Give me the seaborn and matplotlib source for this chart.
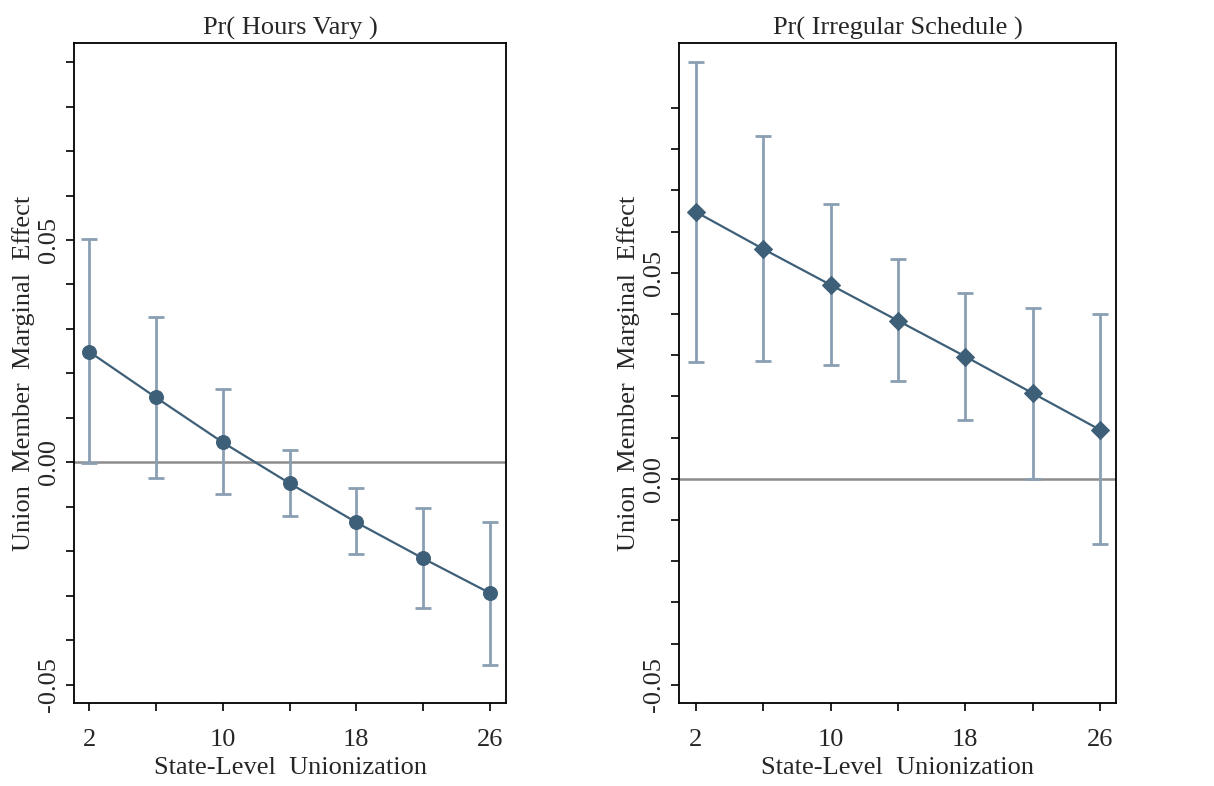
import numpy as np
import pandas as pd
import matplotlib
matplotlib.use('Agg')
import matplotlib.pyplot as plt
import seaborn as sns

# Datos
union_estatal = [2, 6, 10, 14, 18, 22, 26]

horas_efecto = [0.0249, 0.0146, 0.0045, -0.0047, -0.0135, -0.0216, -0.0294]
horas_sup = [0.0503, 0.0326, 0.0164, 0.0027, -0.0058, -0.0103, -0.0133]
horas_inf = [-0.0002, -0.0034, -0.0070, -0.0121, -0.0207, -0.0328, -0.0456]

irreg_efecto = [0.0648, 0.0558, 0.0471, 0.0384, 0.0297, 0.0208, 0.0119]
irreg_sup = [0.1012, 0.0833, 0.0667, 0.0533, 0.0450, 0.0414, 0.0399]
irreg_inf = [0.0284, 0.0287, 0.0277, 0.0238, 0.0143, 0.0000, -0.0158]

titulos = ['Pr( Hours Vary )', 'Pr( Irregular Schedule )']
ytick_vals = [-0.05, -0.04, -0.03, -0.02, -0.01, 0.0, 0.01, 0.02, 0.03, 0.04, 0.05, 0.06, 0.07, 0.08, 0.09]
ytick_labels = ['-0.05', '', '', '', '', '0.00', '', '', '', '', '0.05', '', '', '', '']
xtick_labels = ['2', '', '10', '', '18', '', '26']

sns.set_style('ticks')
plt.rcParams['font.family'] = ['Liberation Serif', 'DejaVu Serif']

color_linea = '#3e5f78'
color_ic = '#8a9fb3'

fig = plt.figure(figsize=(12.14, 7.86), dpi=100)
ax1 = fig.add_axes([0.061, 0.1056, 0.3559, 0.8397])
ax2 = fig.add_axes([0.5593, 0.1056, 0.36, 0.8397])

paneles = [
    (ax1, horas_efecto, horas_sup, horas_inf, 'o', 10, (-0.0541, 0.0943), (1.1, 26.96)),
    (ax2, irreg_efecto, irreg_sup, irreg_inf, 'D', 9, (-0.0544, 0.1058), (1.0, 26.95)),
]

for i, (ax, efecto, sup, inf, marca, tam, ylim, xlim) in enumerate(paneles):
    df = pd.DataFrame({'x': union_estatal, 'y': efecto})
    ef = np.array(efecto)
    err = [ef - np.array(inf), np.array(sup) - ef]
    ax.axhline(0, color='#8c8c8c', lw=1.8, zorder=1)
    ax.errorbar(union_estatal, efecto, yerr=err, fmt='none', ecolor=color_ic,
                elinewidth=2, capsize=6, capthick=2, zorder=2)
    sns.lineplot(data=df, x='x', y='y', ax=ax, color=color_linea, lw=1.6,
                 marker=marca, markersize=tam, markeredgecolor=color_linea,
                 zorder=3)
    ax.set_xlim(*xlim)
    ax.set_ylim(*ylim)
    ax.set_xticks(union_estatal)
    ax.set_xticklabels(xtick_labels)
    ax.set_yticks(ytick_vals)
    ax.set_yticklabels(ytick_labels, rotation=90, va='center')
    ax.tick_params(axis='both', length=6, width=1.2, labelsize=19, color='black')
    ax.tick_params(axis='x', pad=13)
    ax.tick_params(axis='y', pad=4)
    for s in ax.spines.values():
        s.set_color('black')
        s.set_linewidth(1.3)
    ax.set_title(titulos[i], fontsize=19, pad=6)
    ax.set_xlabel('State-Level  Unionization', fontsize=19, labelpad=4)
    ax.set_ylabel('Union  Member  Marginal  Effect', fontsize=19, labelpad=2)

fig.savefig('out.png', dpi=100)
